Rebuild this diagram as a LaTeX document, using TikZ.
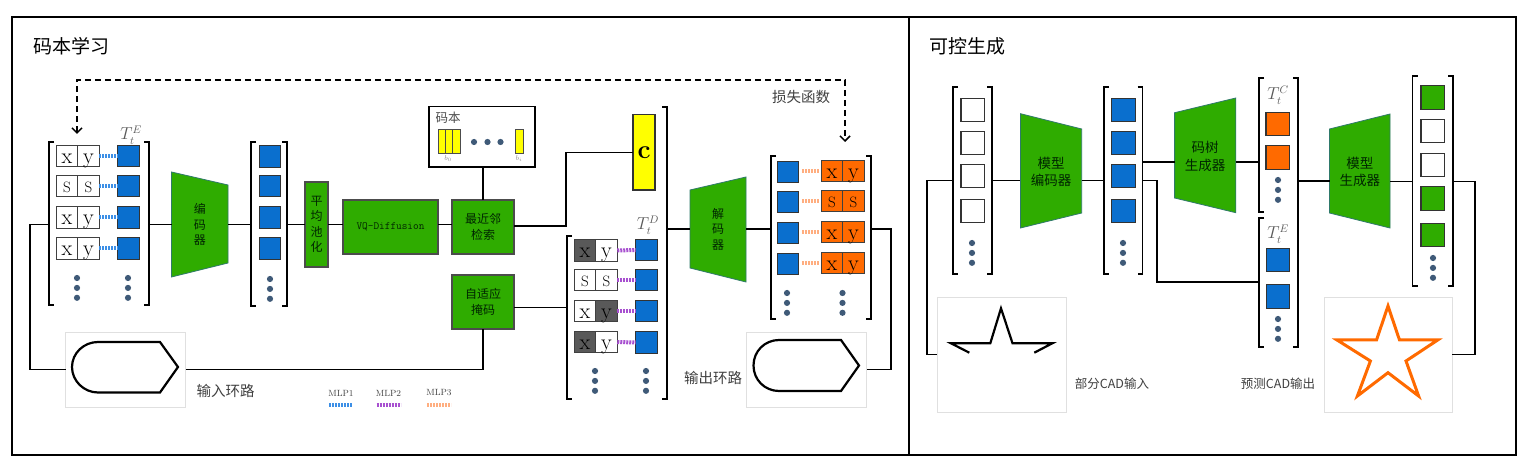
\documentclass[tikz,border=0pt]{standalone}
\usepackage{fontspec}
\usepackage{amsmath}
\usetikzlibrary{arrows.meta,positioning}
\newfontfamily\cjk{Noto Sans CJK SC}
\definecolor{gbox}{HTML}{2FAC00}
\definecolor{bbox}{HTML}{0A6FCE}
\definecolor{obox}{HTML}{FF6A00}
\definecolor{ybox}{HTML}{FFFF00}
\definecolor{dotc}{HTML}{3F5A78}
\definecolor{trapc}{HTML}{2F7A6A}
\definecolor{mlpa}{HTML}{3C8FE6}
\definecolor{mlpb}{HTML}{A850D0}
\definecolor{mlpc}{HTML}{FFAE80}
\tikzset{
  link/.style={line width=1.9pt,line join=miter},
  brak/.style={line width=1.9pt},
  lossline/.style={line width=1.5pt,dash pattern=on 6pt off 4pt},
  cell/.style={draw=black!75,line width=1.2pt,minimum width=21.5pt,minimum height=21.5pt,inner sep=0pt,outer sep=0pt,font=\fontsize{22}{22}\selectfont,text height=15pt,text depth=0pt},
  scell/.style={cell,font=\fontsize{15}{15}\selectfont,text height=13pt},
  sq/.style={draw=black!80,line width=1.2pt,minimum size=21.5pt,inner sep=0pt,outer sep=0pt},
  sqr/.style={sq,minimum width=23.5pt,minimum height=23.5pt},
  gbx/.style={draw=black!70,line width=1.5pt,fill=gbox,inner sep=0pt,outer sep=0pt,align=center,text=black!85!green,font=\cjk\fontsize{12}{15.5}\selectfont},
  trap/.style={draw=trapc,line width=.8pt,fill=gbox},
  traptext/.style={inner sep=0pt,outer sep=0pt,align=center,text=black!85!green,font=\cjk\fontsize{12}{15.5}\selectfont},
  traptextb/.style={traptext,font=\cjk\fontsize{13.5}{17.5}\selectfont},
  dotn/.style={fill=dotc,circle,inner sep=0pt,minimum size=6.2pt},
  mlpdot/.style={line width=4pt,dash pattern=on 2pt off 1pt},
  loopbox/.style={draw=black!12,line width=.8pt,inner sep=0pt,outer sep=0pt},
  loopshape/.style={line width=2.2pt},
  captext/.style={inner sep=0pt,text=black!75,font=\cjk\fontsize{14.5}{16}\selectfont},
  captextb/.style={captext,font=\cjk\fontsize{12.5}{14}\selectfont},
  tlab/.style={inner sep=0pt,text=black!65,font=\fontsize{16}{16}\selectfont},
  mlplab/.style={inner sep=0pt,text=black!75,font=\fontsize{9}{9}\selectfont},
}
\newcommand{\dotcol}[3]{
  \node[dotn] (#1a) at (#2,#3) {};
  \node[dotn,below=3.3pt of #1a] (#1b) {};
  \node[dotn,below=3.3pt of #1b] (#1c) {};
}
% brackets: name, x, top, bottom, y of the connection
\newcommand{\lbrak}[5]{
  \draw[brak] (#2+5,#3) -- (#2,#3) -- (#2,#4) -- (#2+5,#4);
  \coordinate (#1) at (#2,#5);
}
\newcommand{\rbrak}[5]{
  \draw[brak] (#2-5,#3) -- (#2,#3) -- (#2,#4) -- (#2-5,#4);
  \coordinate (#1) at (#2,#5);
}
\begin{document}
\begin{tikzpicture}[x=1pt,y=-1pt]
\useasboundingbox (0,0) rectangle (1524,470);
\fill[white] (0,0) rectangle (1524,470);
\draw[line width=1.8pt] (12,17) rectangle (1516,455);
\draw[line width=1.8pt] (909,17) -- (909,455);
\node[inner sep=0pt,font=\cjk\fontsize{19}{20}\selectfont] (titlea) at (71.5,46.5) {码本学习};
\node[inner sep=0pt,font=\cjk\fontsize{19}{20}\selectfont] (titleb) at (967,46.5) {可控生成};

% input tokens
\lbrak{inL}{49}{142}{305}{224.5}
\rbrak{inR}{149}{142}{305}{224.5}
\node[cell] (ia1) at (67,156) {x};
\node[cell] (ib1) at (88.5,156) {y};
\node[scell] (ia2) at (67,186) {S};
\node[scell] (ib2) at (88.5,186) {S};
\node[cell] (ia3) at (67,217.5) {x};
\node[cell] (ib3) at (88.5,217.5) {y};
\node[cell] (ia4) at (67,248.5) {x};
\node[cell] (ib4) at (88.5,248.5) {y};
\node[sq,fill=bbox] (is1) at (128.5,156) {};
\node[sq,fill=bbox] (is2) at (128.5,186) {};
\node[sq,fill=bbox] (is3) at (128.5,217.5) {};
\node[sq,fill=bbox] (is4) at (128.5,248.5) {};
\draw[mlpdot,mlpa] (ib1) -- (is1);
\draw[mlpdot,mlpa] (ib2) -- (is2);
\draw[mlpdot,mlpa] (ib3) -- (is3);
\draw[mlpdot,mlpa] (ib4) -- (is4);
\dotcol{idl}{77}{278}
\dotcol{idr}{128}{278}
\node[tlab] (tie) at (131,135) {$T_t^E$};

% encoder
\draw[trap] (171.5,172) -- (228,185) -- (228,263) -- (171.5,277) -- cycle;
\node[traptext,minimum width=56.5pt] (enc) at (199.75,224.5) {编\\码\\器};

% latent
\lbrak{latL}{251}{142}{306}{224.5}
\rbrak{latR}{287}{142}{306}{224.5}
\node[sq,fill=bbox] (l1) at (270,156.5) {};
\node[sq,fill=bbox] (l2) at (270,186) {};
\node[sq,fill=bbox] (l3) at (270,217.5) {};
\node[sq,fill=bbox] (l4) at (270,248.5) {};
\dotcol{ldc}{270}{279}

\node[gbx,minimum width=23pt,minimum height=85pt] (pool) at (316.5,224.5) {平\\均\\池\\化};
\node[gbx,minimum width=95pt,minimum height=54pt,font=\ttfamily\fontsize{11}{12}\selectfont] (vq) at (390.5,227) {VQ-Diffusion};
\node[gbx,minimum width=62pt,minimum height=54pt] (near) at (483,227) {最近邻\\检索};
\node[gbx,minimum width=62pt,minimum height=54pt] (mask) at (483,302) {自适应\\掩码};

% codebook
\node[draw,line width=1.5pt,minimum width=106pt,minimum height=60.5pt,inner sep=0pt,outer sep=0pt] (book) at (482,136.75) {};
\node[captextb,text=black!70] (booklab) at (448,118) {码本};
\node[draw=black!70,line width=1pt,fill=ybox,minimum width=7.2pt,minimum height=24pt,inner sep=0pt,outer sep=0pt] (ya) at (442.1,142) {};
\node[draw=black!70,line width=1pt,fill=ybox,minimum width=7.2pt,minimum height=24pt,inner sep=0pt,outer sep=0pt] (yb) at (449.3,142) {};
\node[draw=black!70,line width=1pt,fill=ybox,minimum width=7.2pt,minimum height=24pt,inner sep=0pt,outer sep=0pt] (yc) at (456.5,142) {};
\node[draw=black!70,line width=1pt,fill=ybox,minimum width=8pt,minimum height=24pt,inner sep=0pt,outer sep=0pt] (yi) at (519,142) {};
\node[dotn] (bd1) at (474,142) {};
\node[dotn] (bd2) at (487.5,142) {};
\node[dotn] (bd3) at (500.5,142) {};
\node[inner sep=0pt,text=black!45,font=\fontsize{7}{7}\selectfont] (bz) at (448,159) {$b_0$};
\node[inner sep=0pt,text=black!45,font=\fontsize{7}{7}\selectfont] (bi) at (519,159) {$b_i$};

\node[draw=black!80,line width=1.5pt,fill=ybox,minimum width=22pt,minimum height=75.5pt,inner sep=0pt,outer sep=0pt,font=\bfseries\fontsize{26}{26}\selectfont] (cbox) at (644,152.5) {c};

% masked tokens
\lbrak{tdL}{567}{236}{399}{307.5}
\rbrak{tdR}{667}{107}{399}{229}
\node[cell,fill=black!65] (ma1) at (585,250.5) {x};
\node[cell] (mb1) at (606.5,250.5) {y};
\node[scell] (ma2) at (585,280) {S};
\node[scell] (mb2) at (606.5,280) {S};
\node[cell] (ma3) at (585,311) {x};
\node[cell,fill=black!65] (mb3) at (606.5,311) {y};
\node[cell,fill=black!65] (ma4) at (585,342) {x};
\node[cell] (mb4) at (606.5,342) {y};
\node[sq,fill=bbox] (ms1) at (646.5,250) {};
\node[sq,fill=bbox] (ms2) at (646.5,280) {};
\node[sq,fill=bbox] (ms3) at (646.5,311) {};
\node[sq,fill=bbox] (ms4) at (646.5,342.5) {};
\draw[mlpdot,mlpb] (mb1) -- (ms1);
\draw[mlpdot,mlpb] (mb2) -- (ms2);
\draw[mlpdot,mlpb] (mb3) -- (ms3);
\draw[mlpdot,mlpb] (mb4) -- (ms4);
\dotcol{mdl}{595}{371}
\dotcol{mdr}{646}{371}
\node[tlab] (tid) at (648,225) {$T_t^D$};

% decoder
\draw[trap] (690,190) -- (746,177) -- (746,282) -- (690,268) -- cycle;
\node[traptext,minimum width=56pt] (dec) at (718,229) {解\\码\\器};

% output tokens
\lbrak{outL}{771}{156}{319}{229}
\rbrak{outR}{871}{156}{319}{229}
\node[sq,fill=bbox] (os1) at (788,172) {};
\node[sq,fill=bbox] (os2) at (788,202) {};
\node[sq,fill=bbox] (os3) at (788,233) {};
\node[sq,fill=bbox] (os4) at (788,264) {};
\node[cell,fill=obox] (oa1) at (832,171) {x};
\node[cell,fill=obox] (ob1) at (853.5,171) {y};
\node[scell,fill=obox] (oa2) at (832,201) {S};
\node[scell,fill=obox] (ob2) at (853.5,201) {S};
\node[cell,fill=obox] (oa3) at (832,232) {x};
\node[cell,fill=obox] (ob3) at (853.5,232) {y};
\node[cell,fill=obox] (oa4) at (832,263) {x};
\node[cell,fill=obox] (ob4) at (853.5,263) {y};
\draw[mlpdot,mlpc,shorten <=3pt,shorten >=2.5pt] (os1.east |- oa1) -- (oa1);
\draw[mlpdot,mlpc,shorten <=3pt,shorten >=2.5pt] (os2.east |- oa2) -- (oa2);
\draw[mlpdot,mlpc,shorten <=3pt,shorten >=2.5pt] (os3.east |- oa3) -- (oa3);
\draw[mlpdot,mlpc,shorten <=3pt,shorten >=2.5pt] (os4.east |- oa4) -- (oa4);
\dotcol{odl}{787}{293}
\dotcol{odr}{842.5}{293}

% loops
\node[loopbox,minimum width=120pt,minimum height=75pt] (inbox) at (125.7,369.5) {};
\draw[loopshape] (160,342) -- (178,367) -- (160,392.5) -- (98,392.5) .. controls (84,392.5) and (72,381) .. (72,367) .. controls (72,353) and (84,342) .. (98,342) -- cycle;
\node[loopbox,minimum width=120pt,minimum height=75pt] (outbox) at (806.7,369.5) {};
\draw[loopshape] (841,340) -- (859,365.5) -- (841,391) -- (779,391) .. controls (765,391) and (753.5,380) .. (753.5,365.5) .. controls (753.5,351) and (765,340) .. (779,340) -- cycle;
\node[captext] (inlab) at (225.5,391) {输入环路};
\node[captext] (outlab) at (713,378) {输出环路};
\node[captext] (losslab) at (801,97) {损失函数};

% legend
\node[mlplab] (leg1) at (341,393) {MLP1};
\node[mlplab] (leg2) at (388.5,393) {MLP2};
\node[mlplab] (leg3) at (439,393) {MLP3};
\draw[mlpdot,mlpa] ([yshift=-12pt,xshift=-12pt]leg1.center) -- ([yshift=-12pt,xshift=12pt]leg1.center);
\draw[mlpdot,mlpb] ([yshift=-12pt,xshift=-12pt]leg2.center) -- ([yshift=-12pt,xshift=12pt]leg2.center);
\draw[mlpdot,mlpc] ([yshift=-12pt,xshift=-12pt]leg3.center) -- ([yshift=-12pt,xshift=12pt]leg3.center);

% connectors of the left panel
\coordinate (lossa) at (77,134);
\coordinate (lossb) at (845,142);
\coordinate (losstop) at (0,80);
\draw[lossline,{Straight Barb[length=5pt,width=10pt]}-{Straight Barb[length=5pt,width=10pt]}] (lossa) -- (lossa |- losstop) -- (lossb |- losstop) -- (lossb);
\coordinate (inwest) at (30,0);
\draw[link] (inL) -- (inL -| inwest) |- (inbox.west);
\draw[link] (inbox.east) -| (mask.south);
\draw[link] (inR) -- (enc.west);
\draw[link] (enc.east) -- (latL);
\draw[link] (latR) -- (pool.west);
\draw[link] (pool.east) -- (pool.east -| vq.west);
\draw[link] (vq.east |- pool) -- (near.west |- pool);
\draw[link] (book.south -| near) -- (near.north);
\coordinate (nbend) at (566,0);
\draw[link] ([yshift=1pt]near.east) -- ([yshift=1pt]near.east -| nbend) |- (cbox.west);
\draw[link] ([yshift=-5.5pt]mask.east) -- (tdL);
\draw[link] (tdR) -- (dec.west);
\draw[link] (dec.east) -- (outL);
\coordinate (outeast) at (891,0);
\draw[link] (outR) -- (outR -| outeast) |- (outbox.east);

% right panel
\lbrak{paL}{953}{87}{274}{180.5}
\rbrak{paR}{992}{87}{274}{180.5}
\node[sqr,fill=white] (pa1) at (972.7,110) {};
\node[sqr,fill=white] (pa2) at (972.7,143) {};
\node[sqr,fill=white] (pa3) at (972.7,176) {};
\node[sqr,fill=white] (pa4) at (972.7,211) {};
\dotcol{pad}{972}{243}

\draw[trap] (1020.5,113.7) -- (1081.7,129) -- (1081.7,213) -- (1020.5,228) -- cycle;
\node[traptextb,minimum width=61.2pt] (menc) at (1051,172) {模型\\编码器};

\lbrak{pbL}{1104}{87}{274}{180.5}
\rbrak{pbR}{1142.5}{87}{274}{180.5}
\node[sqr,fill=bbox] (pb1) at (1123.5,110) {};
\node[sqr,fill=bbox] (pb2) at (1123.5,143) {};
\node[sqr,fill=bbox] (pb3) at (1123.5,176) {};
\node[sqr,fill=bbox] (pb4) at (1123.5,211) {};
\dotcol{pbd}{1123}{243}

\draw[trap] (1174.6,112.7) -- (1235.8,98) -- (1235.8,212.7) -- (1174.6,198) -- cycle;
\node[traptextb,minimum width=61.2pt] (tgen) at (1205.2,156.5) {码树\\生成器};

\lbrak{tcL}{1259}{78}{212}{162}
\lbrak{teL}{1259}{218}{347}{282}
\rbrak{tcR}{1298}{78}{347}{181}
\node[tlab] (tic) at (1278,95) {$T_t^C$};
\node[sqr,fill=obox] (tc1) at (1277.7,124) {};
\node[sqr,fill=obox] (tc2) at (1277.7,157.5) {};
\dotcol{tcd}{1278}{180}
\node[tlab] (tie2) at (1278,234) {$T_t^E$};
\node[sqr,fill=bbox] (te1) at (1278,260) {};
\node[sqr,fill=bbox] (te2) at (1278,296.5) {};
\dotcol{ted}{1278}{319}

\draw[trap] (1329.5,129) -- (1390,114) -- (1390,228) -- (1329.5,213) -- cycle;
\node[traptextb,minimum width=60.5pt] (mgen) at (1359.75,172) {模型\\生成器};

\lbrak{pdL}{1412.5}{76}{286}{181.5}
\rbrak{pdR}{1453}{76}{286}{181.5}
\node[sqr,fill=gbox] (pd1) at (1432.8,97.5) {};
\node[sqr,fill=white] (pd2) at (1432.8,131) {};
\node[sqr,fill=white] (pd3) at (1432.8,165) {};
\node[sqr,fill=gbox] (pd4) at (1432.8,198.5) {};
\node[sqr,fill=gbox] (pd5) at (1432.8,235) {};
\dotcol{pdd}{1433}{258}

\node[loopbox,minimum width=128.5pt,minimum height=115pt] (pbox) at (1001.7,354.5) {};
\draw[loopshape,miter limit=10] (969.3,352.7) -- (951,343.3) -- (990.3,343.3) -- (1001,308.3) -- (1012.5,343.3) -- (1052.3,343.3) -- (1034.3,352.7);
\node[loopbox,minimum width=128pt,minimum height=115pt] (obx) at (1388,354.5) {};
\draw[loopshape,obox,line width=3pt,miter limit=10] (1388,306) -- (1399.5,340) -- (1437.7,340) -- (1406,361) -- (1418.6,396) -- (1388,372.7) -- (1357.4,396) -- (1370.4,361) -- (1337,340) -- (1376.5,340) -- cycle;
\node[captextb] (plab) at (1112,384) {部分CAD输入};
\node[captextb] (olab) at (1278,384) {预测CAD输出};

% connectors of the right panel
\coordinate (pwest) at (927,0);
\coordinate (peast) at (1475,0);
\coordinate (pbend) at (1157,0);
\draw[link] (paL) -- (paL -| pwest) |- (pbox.west);
\draw[link] (paR) -- (menc.west |- paR);
\draw[link] (menc.east |- pbL) -- (pbL);
\draw[link] (pbR |- tcL) -- (tgen.west |- tcL);
\draw[link] (tgen.east |- tcL) -- (tcL);
\draw[link] (pbR) -- (pbR -| pbend) |- (teL);
\draw[link] (tcR) -- (mgen.west |- tcR);
\draw[link] (mgen.east |- pdL) -- (pdL);
\draw[link] (pdR) -- (pdR -| peast) |- (obx.east);
\end{tikzpicture}
\end{document}
